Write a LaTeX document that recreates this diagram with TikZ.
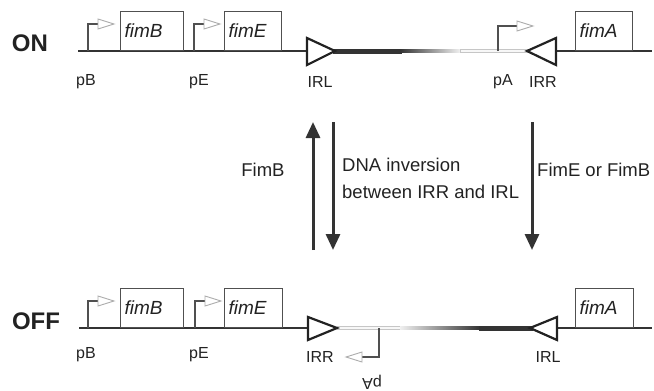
\documentclass[tikz,border=0pt]{standalone}
\usepackage{fontspec}
\setmainfont{Liberation Sans}
\usetikzlibrary{arrows.meta}
\definecolor{ink}{HTML}{222222}
\definecolor{dnac}{HTML}{333333}
\definecolor{boxc}{HTML}{505050}
\tikzset{
  dna/.style={draw=dnac, line width=1.4pt},
  gene/.style={draw=boxc, line width=1.2pt, minimum height=39pt, inner xsep=4pt, inner ysep=0pt,
    align=left, anchor=south west, font=\fontsize{19}{21}\selectfont\itshape, text=ink},
  invrep/.style={draw=ink, line width=2.2pt, fill=white, line join=miter},
  promline/.style={draw=boxc, line width=1.2pt},
  promhead/.style={draw=gray!65, fill=white, line width=0.9pt, line join=miter},
  lbl/.style={font=\fontsize{16}{18}\selectfont, text=ink, inner sep=0pt},
  midtxt/.style={font=\fontsize{18.5}{27}\selectfont, text=ink, inner sep=0pt, align=left},
  onoff/.style={font=\fontsize{24}{26}\selectfont\bfseries, text=ink, inner sep=0pt},
  bigarrow/.style={draw=dnac, line width=3pt, -{Triangle[length=16pt,width=14pt]}},
  lightbar/.style={draw=gray!45, fill=gray!6, line width=0.6pt},
  darkbar/.style={fill=dnac, draw=dnac, line width=0.4pt},
}
\begin{document}
\begin{tikzpicture}[x=1pt,y=-1pt]
\useasboundingbox (0,0) rectangle (654,391);

% ---------------- ON state ----------------
\node[onoff] (on) at (30,43.5) {ON};
\coordinate (tL) at (78,51);
\coordinate (tIRLb) at (307,51);
\coordinate (tIRLt) at (335,51);
\coordinate (tIRRt) at (527,51);
\coordinate (tIRRb) at (556,51);
\coordinate (tR) at (652,51);
\draw[dna] (tL) -- (tIRLb);
\draw[dna] (tIRRb) -- (tR);
% invertible segment
\path[darkbar] (333,49.3) rectangle (401,52.7);
\shade[left color=dnac, right color=gray!12] (400,49.3) rectangle (460,52.7);
\draw[lightbar] (460,49.5) rectangle (527,52.5);
% genes
\node[gene, minimum width=63pt, text width=55pt] (fimBon) at (120,51) {fimB};
\node[gene, minimum width=57pt, text width=49pt] (fimEon) at (224,51) {fimE};
\node[gene, minimum width=57pt, text width=49pt] (fimAon) at (575,51) {fimA};
% promoters
\draw[promline] (88,51) -- (88,24) -- (98,24);
\draw[promhead] (98,19) -- (114,24) -- (98,29) -- cycle;
\draw[promline] (194,51) -- (194,24) -- (204,24);
\draw[promhead] (204,19) -- (220,24) -- (204,29) -- cycle;
\draw[promline] (498,51) -- (498,26) -- (517,26);
\draw[promhead] (517,21) -- (533,26) -- (517,31) -- cycle;
% inverted repeats
\draw[invrep] (307,38) -- (tIRLt) -- (307,65) -- cycle;
\draw[invrep] (556,38) -- (tIRRt) -- (556,65) -- cycle;
% labels
\node[lbl] (pBon) at (86,82) {pB};
\node[lbl] (pEon) at (199,82) {pE};
\node[lbl] (IRLon) at (320,82) {IRL};
\node[lbl] (pAon) at (503,82) {pA};
\node[lbl] (IRRon) at (543,82) {IRR};

% ---------------- transitions ----------------
\coordinate (a1s) at (313,250);
\coordinate (a1e) at (313,122);
\coordinate (a2s) at (333,122);
\coordinate (a2e) at (333,250);
\coordinate (a3s) at (532,122);
\coordinate (a3e) at (532,250);
\draw[bigarrow] (a1s) -- (a1e);
\draw[bigarrow] (a2s) -- (a2e);
\draw[bigarrow] (a3s) -- (a3e);
\node[midtxt] (fimBtxt) at (263,170) {FimB};
\node[midtxt, anchor=west] (invtxt) at (342,178.5) {DNA inversion\\between IRR and IRL};
\node[midtxt, anchor=west] (fimEtxt) at (537,170) {FimE or FimB};

% ---------------- OFF state ----------------
\node[onoff] (off) at (36,321) {OFF};
\coordinate (bL) at (79,328);
\coordinate (bIRRb) at (308,328);
\coordinate (bIRRt) at (337,328);
\coordinate (bIRLt) at (530,328);
\coordinate (bIRLb) at (557,328);
\coordinate (bR) at (652,328);
\draw[dna] (bL) -- (bIRRb);
\draw[dna] (bIRLb) -- (bR);
\draw[lightbar] (337,326.5) rectangle (400,329.5);
\shade[left color=gray!12, right color=dnac] (400,326.3) rectangle (480,329.7);
\path[darkbar] (479,326.3) rectangle (532,329.7);
\node[gene, minimum width=63pt, text width=55pt] (fimBoff) at (120,328) {fimB};
\node[gene, minimum width=58pt, text width=50pt] (fimEoff) at (224,328) {fimE};
\node[gene, minimum width=58pt, text width=50pt] (fimAoff) at (575,328) {fimA};
\draw[promline] (88,328) -- (88,301) -- (98,301);
\draw[promhead] (98,296) -- (114,301) -- (98,306) -- cycle;
\draw[promline] (195,328) -- (195,301) -- (205,301);
\draw[promhead] (205,296) -- (221,301) -- (205,306) -- cycle;
\draw[promline] (379,328) -- (379,357) -- (362,357);
\draw[promhead] (362,352) -- (346,357) -- (362,362) -- cycle;
\draw[invrep] (308,317) -- (bIRRt) -- (308,340) -- cycle;
\draw[invrep] (557,317) -- (bIRLt) -- (557,340) -- cycle;
\node[lbl] (pBoff) at (86,355) {pB};
\node[lbl] (pEoff) at (199,355) {pE};
\node[lbl] (IRRoff) at (320,357) {IRR};
\node[lbl] (IRLoff) at (548,357) {IRL};
\node[lbl, rotate=180] (pAoff) at (372,382) {pA};
\end{tikzpicture}
\end{document}
